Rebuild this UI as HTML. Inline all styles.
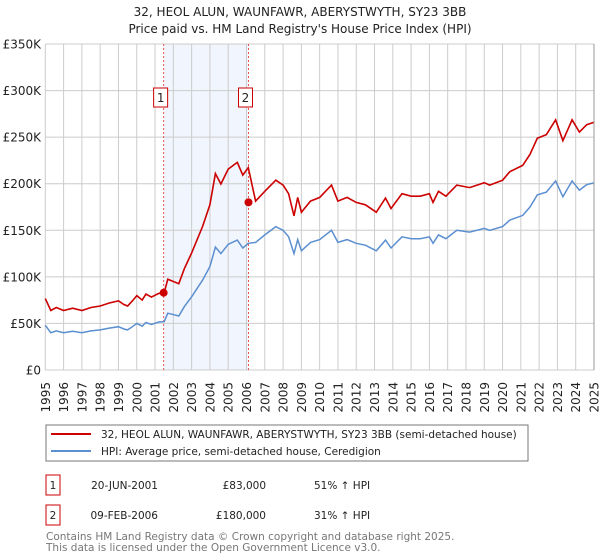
<!DOCTYPE html>
<html><head><meta charset="utf-8"><style>
body{margin:0;background:#fff;font-family:"DejaVu Sans","Liberation Sans",sans-serif}
#wrap{position:relative;width:600px;height:560px;overflow:hidden}
svg{position:absolute;left:0;top:0;font-family:"DejaVu Sans","Liberation Sans",sans-serif}
</style></head><body>
<div id="wrap">
<svg id="chart" width="600" height="560"></svg>
</div>
<script>
const hpiYears=[1995.0,1995.3,1995.6,1996,1996.5,1997,1997.5,1998,1998.5,1999,1999.3,1999.5,1999.8,2000,2000.3,2000.5,2000.8,2001.2,2001.5,2001.7,2002.3,2002.6,2003,2003.6,2004,2004.3,2004.6,2005,2005.5,2005.8,2006.1,2006.5,2007,2007.6,2008,2008.3,2008.6,2008.8,2009,2009.5,2010,2010.65,2011,2011.5,2012,2012.5,2013.1,2013.6,2013.9,2014.5,2015,2015.5,2016,2016.2,2016.5,2016.9,2017.5,2018.2,2019,2019.3,2020,2020.4,2021.1,2021.5,2021.9,2022.4,2022.9,2023.3,2023.8,2024.2,2024.6,2025];
const hpiValues=[48000,40000,42000,40000,41500,40000,42000,43000,45000,46500,44000,43000,47000,50000,47000,51000,49000,51500,52000,61000,58000,68000,78600,96500,111000,132000,125000,135000,139500,131000,136000,137000,145000,154000,150000,143000,125000,140000,128000,137000,140000,150000,137000,140000,136000,134000,128000,139500,131000,143000,141000,141000,143000,136000,145000,141000,150000,148000,152000,150000,154000,161000,166000,175000,188000,191000,203000,186000,203000,193000,199000,201000];
const saleYears=[2001.47,2006.11];
const salePrices=[83000,180000];
const saleLabels=["1","2"];
const yTicks=[0,50000,100000,150000,200000,250000,300000,350000];
const yTickLabels=["£0","£50K","£100K","£150K","£200K","£250K","£300K","£350K"];
const xTicks=[1995,1996,1997,1998,1999,2000,2001,2002,2003,2004,2005,2006,2007,2008,2009,2010,2011,2012,2013,2014,2015,2016,2017,2018,2019,2020,2021,2022,2023,2024,2025];

const L=45.3,R=594,T=44,B=370;
const xS=y=>L+(y-1995)*(R-L)/30;
const yS=v=>B-v*(B-T)/350000;
const NS="http://www.w3.org/2000/svg";
const svg=document.getElementById('chart');
function mk(tag,at,parent){const e=document.createElementNS(NS,tag);for(const k in at)e.setAttribute(k,at[k]);(parent||svg).appendChild(e);return e;}
function hpiAt(y){for(let i=1;i<hpiYears.length;i++){if(y<=hpiYears[i]){const t=(y-hpiYears[i-1])/(hpiYears[i]-hpiYears[i-1]);return hpiValues[i-1]+t*(hpiValues[i]-hpiValues[i-1]);}}return hpiValues[hpiValues.length-1];}

let t=mk('text',{x:300,y:16,'text-anchor':'middle','font-size':'12',fill:'#222'});t.textContent="32, HEOL ALUN, WAUNFAWR, ABERYSTWYTH, SY23 3BB";


t=mk('text',{x:300,y:33,'text-anchor':'middle','font-size':'12',fill:'#222'});t.textContent="Price paid vs. HM Land Registry's House Price Index (HPI)";



let sh=mk('rect',{x:xS(saleYears[0]),y:T,width:xS(saleYears[1])-xS(saleYears[0]),height:B-T,fill:'#eef3fc',opacity:0.8});



xTicks.forEach(y=>{const l=mk('line',{x1:xS(y),x2:xS(y),y1:T,y2:B,stroke:'#cccccc','stroke-width':1});


const tx=mk('text',{transform:`translate(${xS(y)+4.5},${382}) rotate(-90)`,'text-anchor':'end','font-size':'12',fill:'#222'});tx.textContent=y;

});
yTicks.forEach((v,i)=>{const l=mk('line',{x1:L,x2:R,y1:yS(v),y2:yS(v),stroke:'#cccccc','stroke-width':1});


const tx=mk('text',{x:41,y:yS(v)+4.5,'text-anchor':'end','font-size':'12',fill:'#222'});tx.textContent=yTickLabels[i];

});

saleYears.forEach((y,i)=>{const l=mk('line',{x1:xS(y),x2:xS(y),y1:T,y2:B,stroke:'#e85555','stroke-width':1,'stroke-dasharray':'2,2'});


const g=mk('g',{});


mk('rect',{x:xS(y)-10,y:88,width:14,height:19,fill:'#fff',stroke:'#cc0000','stroke-width':1},g);
const tx=mk('text',{x:xS(y)-3,y:102,'text-anchor':'middle','font-size':'12',fill:'#222'},g);tx.textContent=saleLabels[i];});

let d=hpiYears.map((y,i)=>(i?'L':'M')+xS(y).toFixed(1)+','+yS(hpiValues[i]).toFixed(1)).join('');
let p=mk('path',{d,fill:'none',stroke:'#5b8fd0','stroke-width':1.5});


const r1=salePrices[0]/hpiAt(saleYears[0]),r2=salePrices[1]/hpiAt(saleYears[1]);
d=hpiYears.map((y,i)=>{const r=y<saleYears[1]?r1:r2;return (i?'L':'M')+xS(y).toFixed(1)+','+yS(hpiValues[i]*r).toFixed(1);}).join('');
p=mk('path',{d,fill:'none',stroke:'#cc0000','stroke-width':1.6});


saleYears.forEach((y,i)=>{const c=mk('circle',{cx:xS(y),cy:yS(salePrices[i]),r:4,fill:'#cc0000'});

});
mk('line',{x1:R,x2:R,y1:T,y2:B,stroke:'#999','stroke-width':1});

const lg=mk('g',{});


mk('rect',{x:46,y:425,width:482,height:36,fill:'#fff',stroke:'#777','stroke-width':1},lg);
mk('line',{x1:51,x2:91,y1:434,y2:434,stroke:'#cc0000','stroke-width':2},lg);
mk('line',{x1:51,x2:91,y1:451,y2:451,stroke:'#5b8fd0','stroke-width':2},lg);
t=mk('text',{x:101,y:438,'font-size':'10.5',fill:'#222'},lg);t.textContent="32, HEOL ALUN, WAUNFAWR, ABERYSTWYTH, SY23 3BB (semi-detached house)";


t=mk('text',{x:101,y:455,'font-size':'10.5',fill:'#222'},lg);t.textContent="HPI: Average price, semi-detached house, Ceredigion";



const rows=[["20-JUN-2001","£83,000","51% ↑ HPI"],["09-FEB-2006","£180,000","31% ↑ HPI"]];
rows.forEach((r,i)=>{const yc=485+i*30;const g=mk('g',{});


mk('rect',{x:46,y:yc-10,width:14,height:20,fill:'#fff',stroke:'#cc0000','stroke-width':1},g);
let a=mk('text',{x:53,y:yc+4,'text-anchor':'middle','font-size':'10.5',fill:'#222'},g);a.textContent=saleLabels[i];
a=mk('text',{x:158,y:yc+4,'text-anchor':'end','font-size':'10.5',fill:'#222'},g);a.textContent=r[0];
a=mk('text',{x:266,y:yc+4,'text-anchor':'end','font-size':'10.5',fill:'#222'},g);a.textContent=r[1];
a=mk('text',{x:314,y:yc+4,'font-size':'10.5',fill:'#222'},g);a.textContent=r[2];});
t=mk('text',{x:46,y:540,'font-size':'10.5',fill:'#777'});t.textContent="Contains HM Land Registry data © Crown copyright and database right 2025.";


t=mk('text',{x:46,y:551,'font-size':'10.5',fill:'#777'});t.textContent="This data is licensed under the Open Government Licence v3.0.";


</script>
</body></html>
